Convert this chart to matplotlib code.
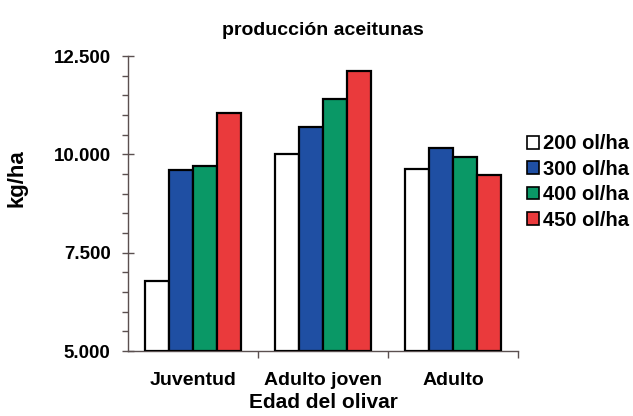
import numpy as np
import matplotlib
matplotlib.use("Agg")
import matplotlib.pyplot as plt
from matplotlib.ticker import MultipleLocator, FuncFormatter

plt.rcParams['font.family'] = ['Liberation Sans', 'DejaVu Sans']
plt.rcParams['font.weight'] = 'bold'

categories = ["Juventud", "Adulto joven", "Adulto"]
series_names = ["200 ol/ha", "300 ol/ha", "400 ol/ha", "450 ol/ha"]
values_200 = [6780, 10010, 9640]
values_300 = [9600, 10690, 10170]
values_400 = [9710, 11410, 9930]
values_450 = [11050, 12130, 9470]
colors = ["#ffffff", "#1f4fa3", "#0a9866", "#ea3a3c"]

series = [values_200, values_300, values_400, values_450]

fig = plt.figure(figsize=(6.33, 4.16), dpi=100)
ax = fig.add_axes([0.2022, 0.15625, 0.6161, 0.7087])

x = np.arange(len(categories))
bw = 0.185
offsets = (np.arange(len(series)) - 1.5) * bw
for vals, off, col, name in zip(series, offsets, colors, series_names):
    ax.bar(x + off, np.array(vals) - 5000, bottom=5000, width=bw, color=col,
           edgecolor="black", linewidth=1.6, label=name, zorder=3)

ax.set_xlim(-0.5, len(categories) - 0.5)
ax.set_ylim(5000, 12500)

axis_color = "#5b5050"
for s in ["top", "right"]:
    ax.spines[s].set_visible(False)
for s in ["left", "bottom"]:
    ax.spines[s].set_color(axis_color)
    ax.spines[s].set_linewidth(1.0)

ax.yaxis.set_major_locator(MultipleLocator(2500))
ax.yaxis.set_minor_locator(MultipleLocator(500))
ax.yaxis.set_major_formatter(FuncFormatter(lambda v, p: f"{int(v):,}".replace(",", ".")))
ax.tick_params(axis="y", which="major", direction="inout", length=9, width=1.0,
               color=axis_color, labelsize=13.5, pad=8)
ax.tick_params(axis="y", which="minor", direction="out", length=4, width=1.0,
               color=axis_color)

# category labels centered between boundary ticks
ax.set_xticks(x)
ax.set_xticklabels(categories, fontsize=14, fontweight="bold")
ax.tick_params(axis="x", which="major", length=0, pad=15)
ax.set_xticks(np.arange(len(categories)) + 0.5, minor=True)
ax.tick_params(axis="x", which="minor", direction="out", length=5, width=1.0,
               color=axis_color)

ax.set_xlabel("Edad del olivar", fontsize=15, fontweight="bold", labelpad=3)
ax.set_ylabel("kg/ha", fontsize=16, fontweight="bold")
ax.yaxis.set_label_coords(-0.258, 0.586)
ax.set_title("producción aceitunas", fontsize=14, fontweight="bold", pad=15)

leg = ax.legend(loc="upper left", bbox_to_anchor=(1.023, 0.735), frameon=False,
                fontsize=14.5, handlelength=0.6, handleheight=0.6,
                handletextpad=0.2, labelspacing=0.32, borderaxespad=0,
                borderpad=0)
for t in leg.get_texts():
    t.set_fontweight("bold")
for h in leg.legend_handles:
    h.set_linewidth(1.2)

fig.savefig("out.png", dpi=100, facecolor="white")
